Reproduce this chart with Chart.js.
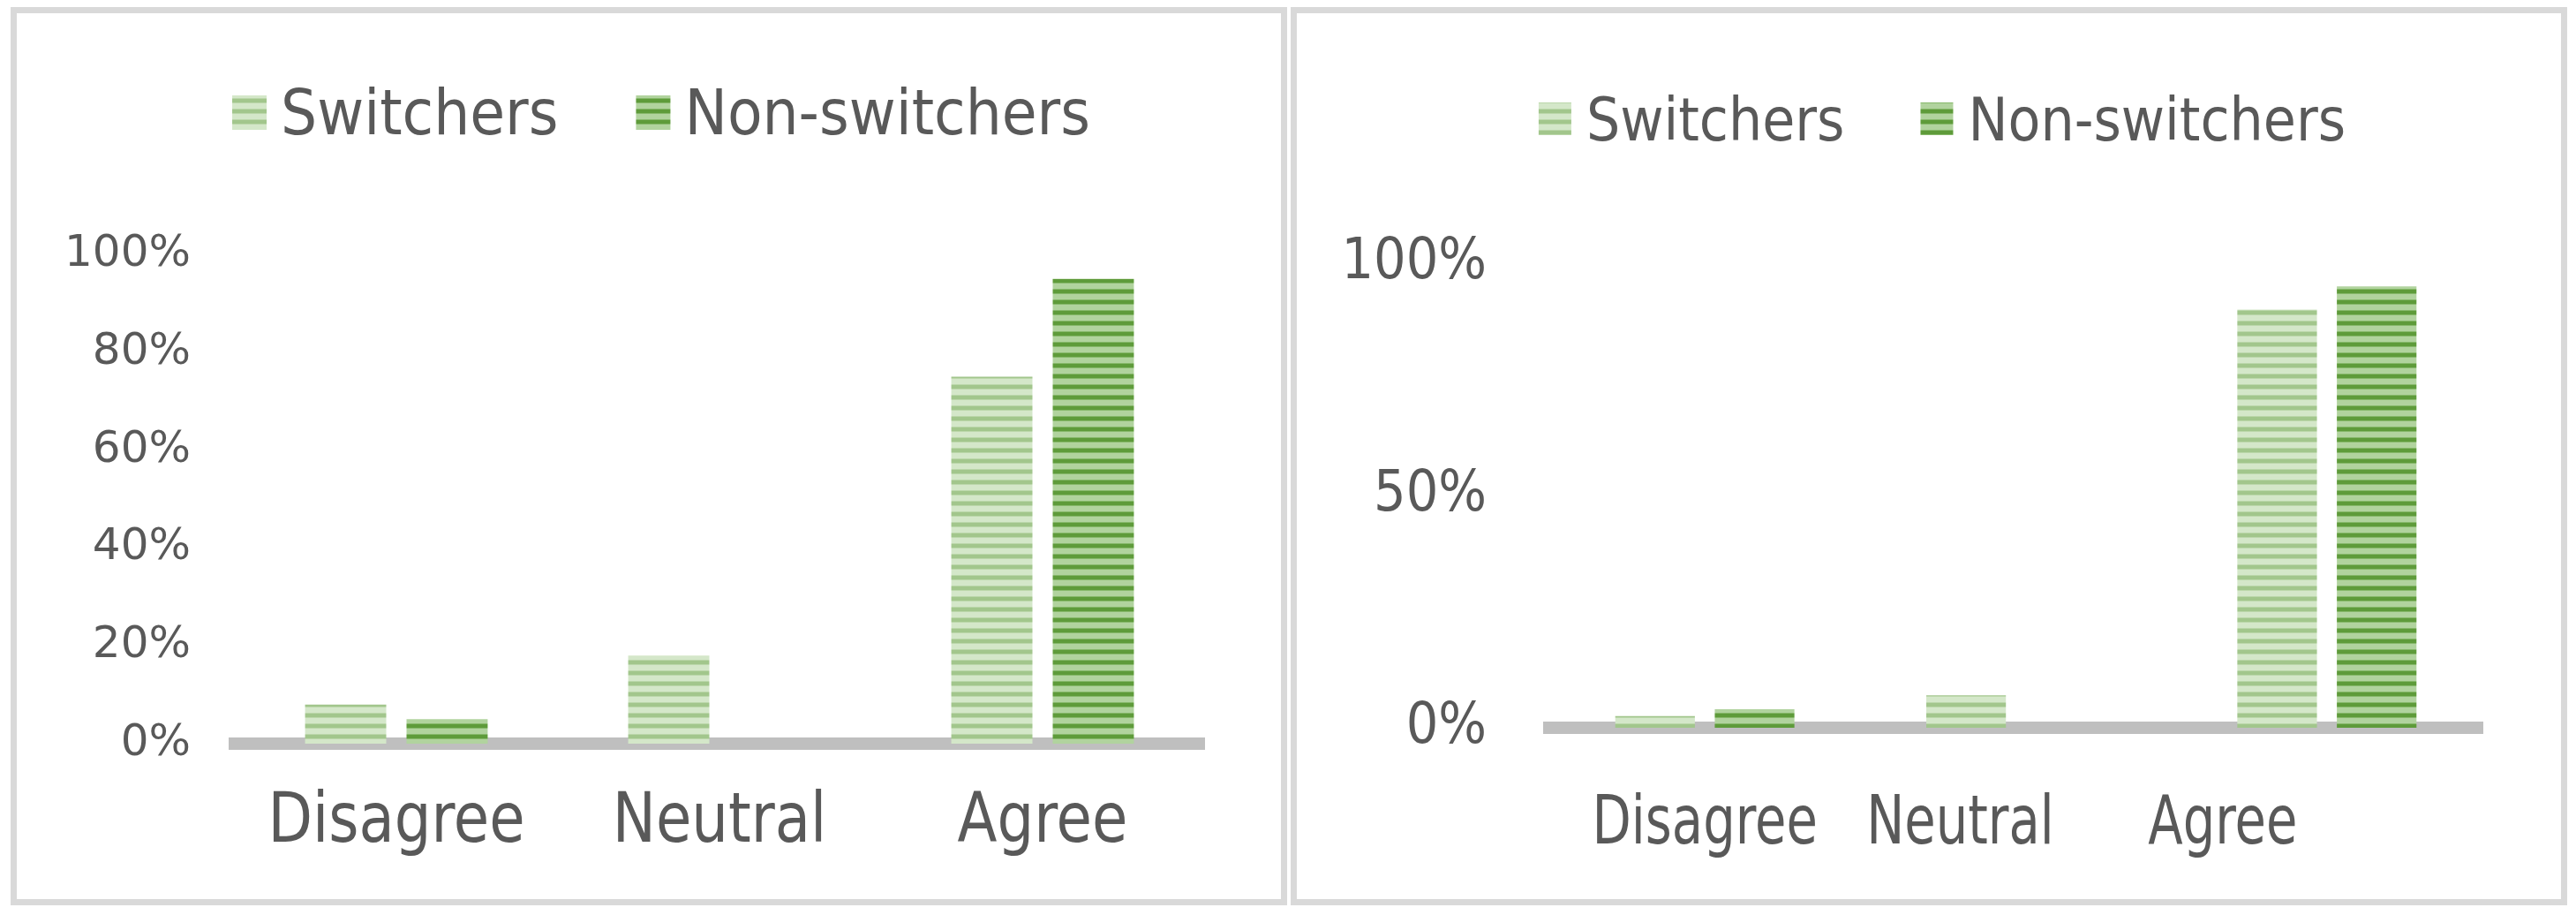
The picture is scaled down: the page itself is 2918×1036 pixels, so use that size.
<!DOCTYPE html>
<html>
<head>
<meta charset="utf-8">
<script src="https://cdn.jsdelivr.net/npm/chart.js@4.4.0/dist/chart.umd.min.js"></script>
<style>
  body { margin: 0; background: #fff; width: 2918px; height: 1036px; position: relative; overflow: hidden; }
  .panel { position: absolute; top: 8px; width: 1446px; height: 1017px; border: 7px solid #d9d9d9; box-sizing: border-box; }
  #left { left: 12px; }
  #right { left: 1462px; }
</style>
</head>
<body>
<div class="panel" id="left"><canvas id="chartLeft" width="1432" height="1003"></canvas></div>
<div class="panel" id="right"><canvas id="chartRight" width="1432" height="1003"></canvas></div>
<script>
const categories = ['Disagree', 'Neutral', 'Agree'];
const seriesNames = ['Switchers', 'Non-switchers'];

const leftSwitchers = [8, 18, 75];
const leftNonSwitchers = [5, 0, 95];
const leftTicks = [0, 20, 40, 60, 80, 100];

const rightSwitchers = [2.5, 7, 90];
const rightNonSwitchers = [4, 0, 95];
const rightTicks = [0, 50, 100];

const TEXT = '#595959';
const COND = "'DejaVu Sans Condensed', 'DejaVu Sans', sans-serif";
const REG = "'DejaVu Sans', sans-serif";

// narrow horizontal stripes like the Excel pattern fill
function stripes(dark, mid, light) {
    const c = document.createElement('canvas');
    c.width = 4;
    c.height = 12;
    const g = c.getContext('2d');
    const rows = [mid, dark, dark, dark, dark, mid, light, light, light, light, light, light];
    rows.forEach((col, i) => {
        g.fillStyle = col;
        g.fillRect(0, i, 4, 1);
    });
    return g.createPattern(c, 'repeat');
}

const switchFill = stripes('#a2c68c', '#bbd7aa', '#d4e7c9');
const nonFill = stripes('#5e9b3a', '#86b86a', '#b1d39e');

const stripeLegend = {
    id: 'stripeLegend',
    afterDraw(chart, args, o) {
        const ctx = chart.ctx;
        ctx.save();
        ctx.font = o.size + 'px ' + COND;
        const items = chart.data.datasets.map(d => ({
            text: d.label, fill: d.backgroundColor, w: ctx.measureText(d.label).width
        }));
        const total = items.reduce((s, it) => s + o.box + o.gap + it.w, 0) + o.spacing * (items.length - 1);
        let x = o.cx - total / 2;
        ctx.textBaseline = 'alphabetic';
        items.forEach(it => {
            ctx.fillStyle = it.fill;
            ctx.fillRect(x, o.boxTop, o.box, o.box);
            x += o.box + o.gap;
            ctx.fillStyle = TEXT;
            ctx.fillText(it.text, x, o.baseline);
            x += it.w + o.spacing;
        });
        ctx.restore();
    }
};

// category names under the axis (the right panel has them shifted left)
const catLabels = {
    id: 'catLabels',
    afterDraw(chart, args, o) {
        const ctx = chart.ctx;
        const x = chart.scales.x;
        ctx.save();
        ctx.font = o.size + 'px ' + COND;
        ctx.fillStyle = TEXT;
        ctx.textAlign = 'center';
        ctx.textBaseline = 'alphabetic';
        chart.data.labels.forEach((lab, i) => {
            ctx.save();
            ctx.translate(x.getPixelForValue(i) + o.shift[i], o.baseline);
            ctx.scale(1, o.stretch);
            ctx.fillText(lab, 0, 0);
            ctx.restore();
        });
        ctx.restore();
    }
};

function makeChart(id, cfg) {
    return new Chart(document.getElementById(id), {
        type: 'bar',
        data: {
            labels: categories,
            datasets: [{
                label: seriesNames[0],
                data: cfg.switchers,
                backgroundColor: switchFill,
                borderWidth: 0,
                barPercentage: 0.8,
                categoryPercentage: cfg.catPct
            }, {
                label: seriesNames[1],
                data: cfg.nonSwitchers,
                backgroundColor: nonFill,
                borderWidth: 0,
                barPercentage: 0.8,
                categoryPercentage: cfg.catPct
            }]
        },
        plugins: [stripeLegend, catLabels],
        options: {
            responsive: false,
            animation: false,
            layout: {
                padding: { top: cfg.area.top, right: 1432 - cfg.area.right, left: 0, bottom: 0 }
            },
            plugins: {
                legend: { display: false },
                tooltip: { enabled: false },
                stripeLegend: cfg.legend,
                catLabels: cfg.labels
            },
            scales: {
                x: {
                    z: 1,
                    grid: { display: false, drawTicks: false },
                    ticks: { display: false },
                    border: { display: true, color: '#bfbfbf', width: 14 },
                    afterFit: s => { s.height = 1003 - cfg.area.bottom; }
                },
                y: {
                    min: 0,
                    max: 100,
                    grid: { display: false, drawTicks: false },
                    border: { display: false },
                    ticks: {
                        color: TEXT,
                        padding: cfg.yPad,
                        font: { family: cfg.yFamily, size: cfg.ySize },
                        callback: v => v + '%'
                    },
                    afterBuildTicks: s => { s.ticks = cfg.ticks.map(v => ({ value: v })); },
                    afterFit: s => { s.width = cfg.area.left; }
                }
            }
        }
    });
}

makeChart('chartLeft', {
    switchers: leftSwitchers,
    nonSwitchers: leftNonSwitchers,
    ticks: leftTicks,
    catPct: 0.628,
    area: { left: 247, right: 1345, top: 273, bottom: 827 },
    yPad: 50, ySize: 50, yFamily: REG,
    legend: { cx: 730, boxTop: 93, box: 39, gap: 16, spacing: 88, size: 72, baseline: 137 },
    labels: { size: 73, baseline: 938, stretch: 1.08, shift: [0, 0, 0] }
});

makeChart('chartRight', {
    switchers: rightSwitchers,
    nonSwitchers: rightNonSwitchers,
    ticks: rightTicks,
    catPct: 0.64,
    area: { left: 286, right: 1343, top: 283, bottom: 809 },
    yPad: 71, ySize: 64, yFamily: COND,
    legend: { cx: 731, boxTop: 101, box: 37, gap: 17, spacing: 86, size: 67, baseline: 144 },
    labels: { size: 64, baseline: 940, stretch: 1.2, shift: [0, -63, -118] }
});
</script>
</body>
</html>
